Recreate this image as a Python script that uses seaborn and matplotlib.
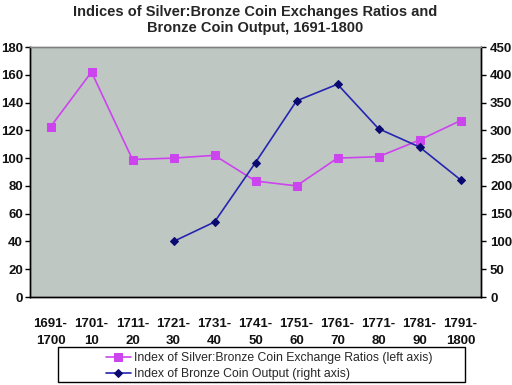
import matplotlib
matplotlib.use("Agg")
import matplotlib.pyplot as plt
from matplotlib.patches import Rectangle
import seaborn as sns
import pandas as pd
import numpy as np

periods = ["1691-\n1700", "1701-\n10", "1711-\n20", "1721-\n30", "1731-\n40", "1741-\n50",
           "1751-\n60", "1761-\n70", "1771-\n80", "1781-\n90", "1791-\n1800"]
silver_ratio = [122.5, 162, 99, 100, 102, 83.5, 80, 100, 101, 113, 127]
bronze_output = [np.nan, np.nan, np.nan, 100, 135, 242, 353, 383, 303, 270, 211]

left_ticks = [0, 20, 40, 60, 80, 100, 120, 140, 160, 180]
right_ticks = [0, 50, 100, 150, 200, 250, 300, 350, 400, 450]

sns.set_style("white")
plt.rcParams['font.family'] = ['Liberation Sans', 'DejaVu Sans']

df = pd.DataFrame({"x": np.arange(len(periods)), "silver": silver_ratio, "bronze": bronze_output})

W, H = 512, 385
fig = plt.figure(figsize=(W/100, H/100), dpi=100)
ax = fig.add_axes([30/W, 1-297/H, 451/W, 250/H])
ax.set_facecolor("#bfc7c3")
ax2 = ax.twinx()

pink = "#cc44ee"
blue = "#2525b0"
navy = "#0a0a70"
sns.lineplot(data=df, x="x", y="silver", ax=ax, color=pink, marker="s", markersize=6,
             markeredgecolor=pink, linewidth=1.2,
             label="Index of Silver:Bronze Coin Exchange Ratios (left axis)", legend=False)
sns.lineplot(data=df.dropna(), x="x", y="bronze", ax=ax2, color=blue, marker="D", markersize=4.5,
             markeredgecolor=navy, markerfacecolor=navy, linewidth=1.2,
             label="Index of Bronze Coin Output (right axis)", legend=False)

ax.set_xlim(-0.5, 10.5)
ax.set_ylim(0, 180)
ax2.set_ylim(0, 450)
ax.set_yticks(left_ticks)
ax2.set_yticks(right_ticks)
ax.set_xticks(np.arange(len(periods)))
ax.set_xticklabels(periods, fontsize=9.5, fontweight="bold", color="#111111", linespacing=1.55)
ax.set_xticks(np.arange(-0.5, len(periods), 1), minor=True)
ax.tick_params(axis="x", which="major", length=0, pad=15)
ax.tick_params(axis="x", which="minor", length=3.5, width=1, direction="out", color="black")
ax.tick_params(axis="y", length=3.5, width=1, direction="out", labelsize=9.5, color="black", pad=1.5)
ax2.tick_params(axis="y", length=3.5, width=1, direction="out", labelsize=9.5, color="black", pad=3)
for lbl in ax.get_yticklabels() + ax2.get_yticklabels():
    lbl.set_fontweight("bold")
    lbl.set_color("#111111")
ax.set_xlabel("")
ax.set_ylabel("")
ax2.set_ylabel("")

for a in (ax, ax2):
    a.spines["top"].set_color("#808080")
    for s in ("left", "right", "bottom"):
        a.spines[s].set_color("black")
    for s in a.spines.values():
        s.set_linewidth(1)
ax.grid(False)
ax2.grid(False)

fig.text(255/W, 1-20/H, "Indices of Silver:Bronze Coin Exchanges Ratios and\nBronze Coin Output, 1691-1800",
         ha="center", va="center", fontsize=10.5, fontweight="bold", linespacing=1.15)

# legend box
fig.patches.append(Rectangle((58/W, 1-382/H), (465-58)/W, (382-347)/H, transform=fig.transFigure,
                             facecolor="white", edgecolor="black", linewidth=1, zorder=1))
h1, l1 = ax.get_legend_handles_labels()
h2, l2 = ax2.get_legend_handles_labels()
leg = fig.legend(h1 + h2, l1 + l2, loc="center left", bbox_to_anchor=(100/W, 1-366/H),
                 frameon=False, fontsize=8.8, handlelength=2.0, handletextpad=0.25,
                 borderpad=0.0, labelspacing=0.35)
leg.set_zorder(2)

fig.savefig("out.png", dpi=100)
